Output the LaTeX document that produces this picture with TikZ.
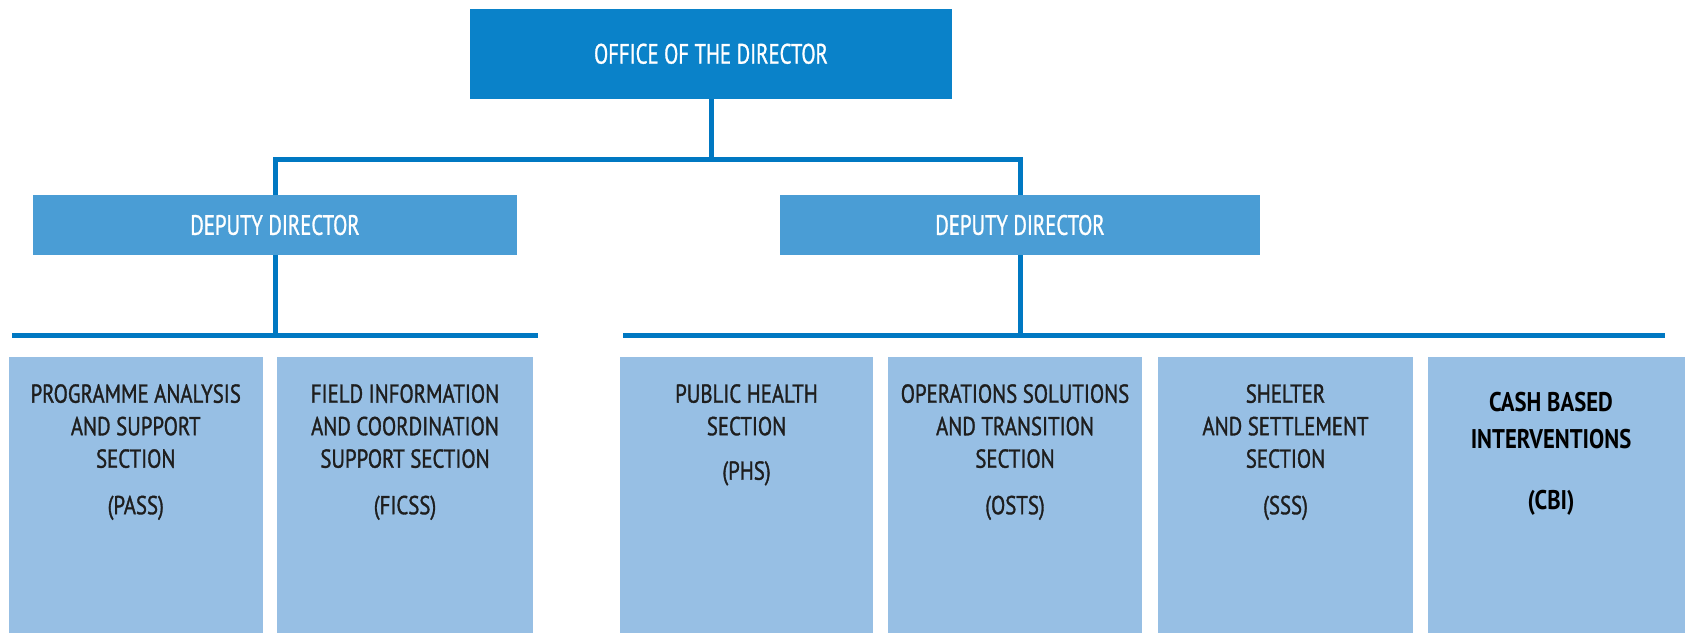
\documentclass[tikz,border=0pt]{standalone}
\usepackage{fontspec}
\newfontfamily\condfont[FakeStretch=0.74, FakeBold=1]{PT Sans}
\newfontfamily\secfont[FakeStretch=0.80, FakeBold=1.2]{PT Sans}
\newfontfamily\cbifont[FakeStretch=0.84]{PT Sans}
\usetikzlibrary{positioning}
\definecolor{officeblue}{HTML}{0A82C9}
\definecolor{deputyblue}{HTML}{4A9DD5}
\definecolor{sectionblue}{HTML}{97BFE4}
\definecolor{lineblue}{HTML}{0078C2}
\definecolor{sectext}{HTML}{1E1E1E}
\tikzset{
  officebox/.style={rectangle, fill=officeblue, inner sep=0pt, text=white},
  deputybox/.style={rectangle, fill=deputyblue, inner sep=0pt, text=white},
  sectionbox/.style={rectangle, fill=sectionblue, inner sep=0pt},
  headtext/.style={font={\condfont\fontsize{28}{33}\selectfont}},
  sectitle/.style={anchor=north, align=center, inner sep=0pt, text=sectext,
    font={\secfont\fontsize{26}{32.5}\selectfont}},
  cbititle/.style={anchor=north, align=center, inner sep=0pt, text=black,
    font={\cbifont\bfseries\fontsize{27}{37}\selectfont}},
  conn/.style={draw=lineblue, line width=5pt, line join=miter},
}
\begin{document}
\begin{tikzpicture}[x=1pt, y=-1pt]
\useasboundingbox (0,0) rectangle (1685,633);
% top
\node[officebox, minimum width=482pt, minimum height=90.5pt, headtext] (office) at (711,53.8) {OFFICE OF THE DIRECTOR};
% deputies
\node[deputybox, minimum width=484pt, minimum height=60.5pt, headtext] (depL) at (275,225) {DEPUTY DIRECTOR};
\node[deputybox, minimum width=480pt, minimum height=60.5pt, headtext] (depR) at (1020,225) {DEPUTY DIRECTOR};
% section boxes
\node[sectionbox, minimum width=254.5pt, minimum height=276pt] (b1) at (135.75,495) {};
\node[sectionbox, minimum width=256pt, minimum height=276pt] (b2) at (405,495) {};
\node[sectionbox, minimum width=253pt, minimum height=276pt] (b3) at (746.5,495) {};
\node[sectionbox, minimum width=254pt, minimum height=276pt] (b4) at (1015,495) {};
\node[sectionbox, minimum width=255pt, minimum height=276pt] (b5) at (1285.5,495) {};
\node[sectionbox, minimum width=257pt, minimum height=276pt] (b6) at (1556.5,495) {};
% section texts
\node[sectitle] (t1) at (135.75,384) {PROGRAMME ANALYSIS\\AND SUPPORT\\SECTION\\[14pt](PASS)};
\node[sectitle] (t2) at (405,384) {FIELD INFORMATION\\AND COORDINATION\\SUPPORT SECTION\\[14pt](FICSS)};
\node[sectitle] (t3) at (746.5,384) {PUBLIC HEALTH\\SECTION\\[12pt](PHS)};
\node[sectitle] (t4) at (1015,384) {OPERATIONS SOLUTIONS\\AND TRANSITION\\SECTION\\[14pt](OSTS)};
\node[sectitle] (t5) at (1285.5,384) {SHELTER\\AND SETTLEMENT\\SECTION\\[14pt](SSS)};
\node[cbititle] (t6) at (1551,392.5) {CASH BASED\\INTERVENTIONS\\[24pt](CBI)};
% connectors
\coordinate (topbar) at (711,159);
\draw[conn] (office.south) -- (topbar);
\draw[conn] (depL.north) |- (topbar) -| (depR.north);
\coordinate (barLw) at (12,335);
\coordinate (barLe) at (538,335);
\coordinate (barRw) at (623,335);
\coordinate (barRe) at (1665,335);
\draw[conn] (depL.south) -- (depL.south |- barLw);
\draw[conn] (depR.south) -- (depR.south |- barRw);
\draw[conn] (barLw) -- (barLe);
\draw[conn] (barRw) -- (barRe);
\end{tikzpicture}
\end{document}
